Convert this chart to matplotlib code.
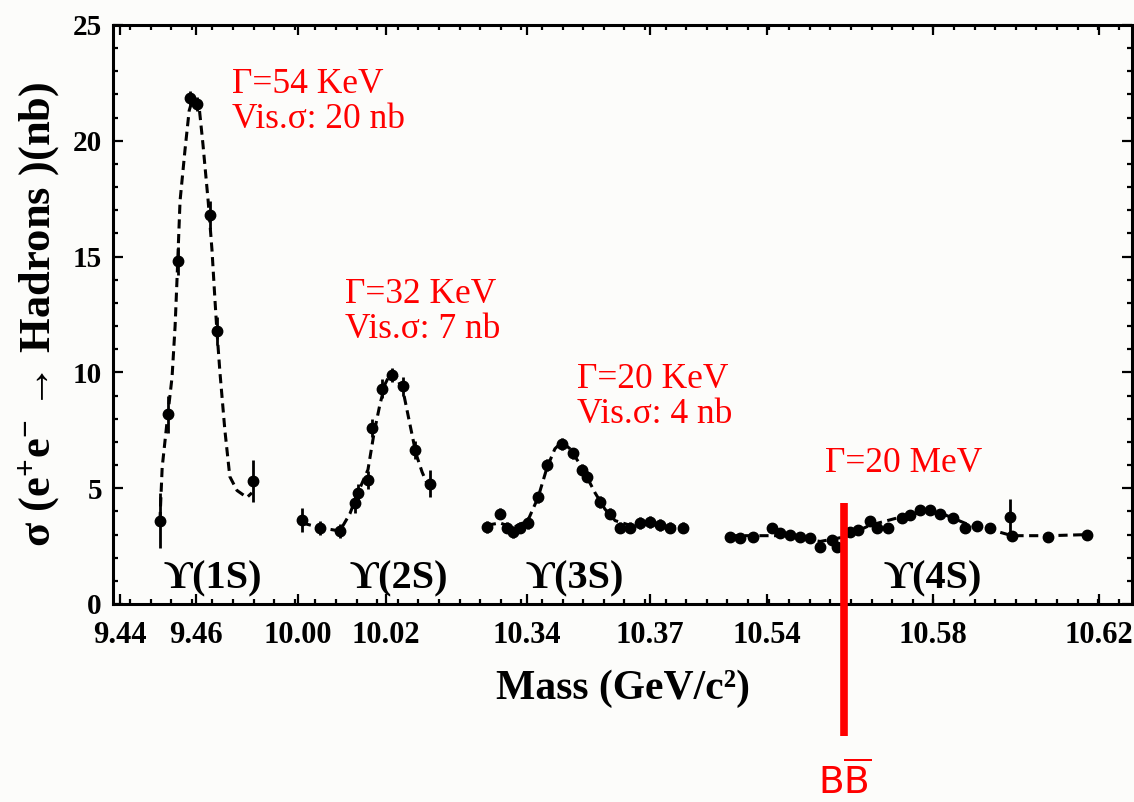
import numpy as np
import matplotlib.pyplot as plt

plt.rcParams['font.family'] = ['Liberation Serif', 'DejaVu Serif']
plt.rcParams['mathtext.fontset'] = 'custom'
plt.rcParams['mathtext.rm'] = 'Liberation Serif:bold'
plt.rcParams['mathtext.sf'] = 'DejaVu Sans'
plt.rcParams['mathtext.default'] = 'rm'

# measured points (mass GeV, sigma nb, error nb)
m1s = [9.4505, 9.4526, 9.4553, 9.4584, 9.4603, 9.4637, 9.4655, 9.4750]
s1s = [3.6, 8.2, 14.8, 21.85, 21.6, 16.8, 11.8, 5.3]
e1s = [1.2, 0.8, 0.6, 0.3, 0.3, 0.6, 0.6, 0.9]

m2s = [10.0009, 10.0050, 10.0095, 10.0130, 10.0136, 10.0159, 10.0168, 10.0191,
       10.0214, 10.0239, 10.0266, 10.0300]
s2s = [3.63, 3.28, 3.15, 4.35, 4.8, 5.35, 7.6, 9.3, 9.9, 9.4, 6.65, 5.2]
e2s = [0.5, 0.3, 0.3, 0.4, 0.4, 0.4, 0.4, 0.4, 0.3, 0.4, 0.4, 0.6]

m3s = [10.3302, 10.3334, 10.3351, 10.3366, 10.3383, 10.3402, 10.3427, 10.3449,
       10.3485, 10.3512, 10.3534, 10.3546, 10.3578, 10.3602, 10.3627, 10.3651,
       10.3676, 10.3700, 10.3724, 10.3749, 10.3780]
s3s = [3.33, 3.9, 3.3, 3.1, 3.3, 3.5, 4.6, 6.0, 6.9, 6.5, 5.8, 5.5, 4.4, 3.9,
       3.3, 3.3, 3.5, 3.55, 3.4, 3.3, 3.3]
e3s = [0.25] * 21

m4s = [10.5311, 10.5335, 10.5366, 10.5412, 10.5431, 10.5455, 10.5480, 10.5504,
       10.5528, 10.5557, 10.5569, 10.5600, 10.5619, 10.5648, 10.5665, 10.5692,
       10.5725, 10.5745, 10.5769, 10.5793, 10.5817, 10.5848, 10.5877, 10.5906,
       10.5937, 10.5986, 10.5990, 10.6077, 10.6171]
s4s = [2.9, 2.85, 2.9, 3.3, 3.05, 3.0, 2.9, 2.85, 2.45, 2.75, 2.45, 3.1, 3.2,
       3.6, 3.3, 3.3, 3.7, 3.85, 4.05, 4.05, 3.9, 3.7, 3.3, 3.35, 3.3, 3.75,
       2.95, 2.9, 3.0]
e4s = [0.15] * 29
e4s[25] = 0.8

# fitted line shapes
f1m = [9.4505, 9.4511, 9.4526, 9.4537, 9.4545, 9.4550, 9.4558, 9.4571, 9.4582,
       9.4592, 9.4608, 9.4618, 9.4632, 9.4642, 9.4650, 9.4655, 9.4663, 9.4676,
       9.4689, 9.4708, 9.4734, 9.4747]
f1s = [3.58, 5.9, 8.2, 9.8, 12.0, 14.0, 17.4, 19.6, 21.3, 21.85, 21.5, 19.9,
       17.4, 15.3, 13.1, 11.8, 10.0, 7.5, 5.5, 4.9, 4.6, 4.8]

f2m = [10.0009, 10.0050, 10.0095, 10.0118, 10.0136, 10.0159, 10.0173, 10.0186,
       10.0198, 10.0211, 10.0225, 10.0241, 10.0255, 10.0268, 10.0282, 10.0300]
f2s = [3.5, 3.3, 3.15, 3.9, 4.8, 5.8, 7.4, 8.6, 9.5, 10.0, 9.8, 9.0, 7.7, 6.5,
       5.7, 4.9]

f3m = [10.3302, 10.3334, 10.3366, 10.3402, 10.3427, 10.3449, 10.3468, 10.3485,
       10.3505, 10.3534, 10.3566, 10.3590, 10.3615, 10.3651, 10.3700, 10.3749,
       10.3780]
f3s = [3.4, 3.5, 3.3, 3.6, 4.6, 5.9, 6.7, 7.0, 6.7, 5.9, 4.8, 4.1, 3.6, 3.4,
       3.45, 3.35, 3.3]

f4m = [10.5311, 10.5383, 10.5455, 10.5528, 10.5588, 10.5648, 10.5721, 10.5781,
       10.5829, 10.5889, 10.5961, 10.5990, 10.6081, 10.6178]
f4s = [2.95, 2.95, 2.95, 2.7, 2.9, 3.4, 3.75, 4.0, 3.85, 3.4, 3.1, 2.95, 2.95,
       3.0]

tick_mass = [9.44, 9.46, 10.00, 10.02, 10.34, 10.37, 10.54, 10.58, 10.62]
tick_text = ['9.44', '9.46', '10.00', '10.02', '10.34', '10.37', '10.54', '10.58', '10.62']
bb_threshold = 10.5586

peaks = [
    ('ϒ(1S)', 'Γ=54 KeV', 'Vis.σ: 20 nb'),
    ('ϒ(2S)', 'Γ=32 KeV', 'Vis.σ: 7 nb'),
    ('ϒ(3S)', 'Γ=20 KeV', 'Vis.σ: 4 nb'),
    ('ϒ(4S)', 'Γ=20 MeV', None),
]

# broken mass axis: each window gets its own linear stretch
windows = [(9.44, 120, 3800, 100, 274),
           (10.00, 298, 4400, 276, 463),
           (10.34, 527, 4100, 465, 715),
           (10.54, 767, 4150, 717, 1150)]
knot_m, knot_p = [], []
for m0, p0, k, pa, pb in windows:
    for p in (pa, pb):
        knot_p.append(p)
        knot_m.append(m0 + (p - p0) / k)
knot_m = np.array(knot_m)
knot_p = np.array(knot_p, dtype=float)


def fwd(m):
    return np.interp(m, knot_m, knot_p)


def inv(p):
    return np.interp(p, knot_p, knot_m)


W, H = 1134, 802
bg = '#fcfcfa'
fig = plt.figure(figsize=(W / 100, H / 100), dpi=100, facecolor=bg)
ax = fig.add_axes([113 / W, 198 / H, 1019 / W, 579 / H], facecolor=bg)
ax.set_xscale('function', functions=(fwd, inv))
ax.set_xlim(inv(113), inv(1132))
ax.set_ylim(0, 25)

for m, s, e, fm, fs in [(m1s, s1s, e1s, f1m, f1s), (m2s, s2s, e2s, f2m, f2s),
                        (m3s, s3s, e3s, f3m, f3s), (m4s, s4s, e4s, f4m, f4s)]:
    ax.plot(fm, fs, color='black', lw=2.2, ls=(0, (3, 1.8)))
    ax.errorbar(m, s, yerr=e, fmt='o', color='black', ms=7.5, elinewidth=2.0,
                capsize=0)

# B Bbar threshold
ax.plot([bb_threshold, bb_threshold], [4.35, -5.7], color='#ff0000', lw=5.5,
        clip_on=False, solid_capstyle='butt', zorder=5)
fig.text(845 / W, 1 - 794 / H, r'B$\mathsf{\overline{B}}$', color='#ff0000',
         family='DejaVu Sans', fontsize=27, ha='center', va='baseline')

ax.set_xticks(tick_mass)
ax.set_xticklabels(tick_text)
ax.set_xticks(inv(np.arange(130, 1132, 20.6)), minor=True)
ax.set_yticks(range(0, 26, 5))
ax.set_yticks(range(0, 26), minor=True)
ax.tick_params(which='both', direction='in', top=True, right=True, width=1.6)
ax.tick_params(which='major', length=7)
ax.tick_params(which='minor', length=3.5)
ax.tick_params(axis='x', pad=12)
ax.tick_params(axis='y', pad=8)
for lab in ax.get_xticklabels():
    lab.set_fontsize(22)
    lab.set_fontweight('bold')
for lab in ax.get_yticklabels():
    lab.set_fontsize(21)
    lab.set_fontweight('bold')
for sp in ax.spines.values():
    sp.set_linewidth(2.2)

ax.set_xlabel('Mass (GeV/c²)', fontsize=30, fontweight='bold', labelpad=14)
ax.set_ylabel(r'σ (e$^{+}$e$^{-}$ → Hadrons )(nb)', fontsize=32,
              fontweight='bold', labelpad=8)

# resonance names under each peak
name_x = [213, 399, 575, 933]
for (name, width, vis), x in zip(peaks, name_x):
    fig.text(x / W, 1 - 588 / H, name, fontsize=29, fontweight='bold',
             ha='center', va='baseline')

# widths and visible cross sections
notes = [(232, 93, 128), (345, 303, 338), (577, 388, 423), (825, 472, None)]
for (name, width, vis), (x, y1, y2) in zip(peaks, notes):
    fig.text(x / W, 1 - y1 / H, width, color='#ff0000', fontsize=25.5,
             ha='left', va='baseline')
    if vis:
        fig.text(x / W, 1 - y2 / H, vis, color='#ff0000', fontsize=25.5,
                 ha='left', va='baseline')

fig.savefig('out.png', dpi=100, facecolor=bg)
